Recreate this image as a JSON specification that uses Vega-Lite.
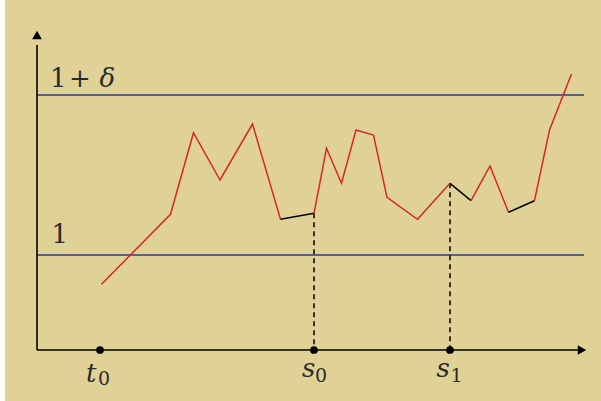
{
  "$schema": "https://vega.github.io/schema/vega-lite/v6.json",
  "width": 601,
  "height": 401,
  "autosize": {"type": "fit", "contains": "padding"},
  "padding": {"left": 5, "top": 0, "right": 0, "bottom": 0},
  "background": "#ffffff",
  "config": {"view": {"fill": "#E0D296", "stroke": null}},
  "datasets": {
    "path": [
      {"t": 1.29, "v": 0.8535, "seg": 1, "kind": "free"},
      {"t": 2.67, "v": 1.2035, "seg": 1, "kind": "free"},
      {"t": 3.13, "v": 1.6115, "seg": 1, "kind": "free"},
      {"t": 3.66, "v": 1.375, "seg": 1, "kind": "free"},
      {"t": 4.31, "v": 1.655, "seg": 1, "kind": "free"},
      {"t": 4.87, "v": 1.1785, "seg": 1, "kind": "free"},
      {"t": 4.87, "v": 1.1785, "seg": 2, "kind": "held"},
      {"t": 5.54, "v": 1.2085, "seg": 2, "kind": "held"},
      {"t": 5.54, "v": 1.2085, "seg": 3, "kind": "free"},
      {"t": 5.79, "v": 1.5335, "seg": 3, "kind": "free"},
      {"t": 6.09, "v": 1.3585, "seg": 3, "kind": "free"},
      {"t": 6.38, "v": 1.625, "seg": 3, "kind": "free"},
      {"t": 6.73, "v": 1.6, "seg": 3, "kind": "free"},
      {"t": 7.0, "v": 1.2885, "seg": 3, "kind": "free"},
      {"t": 7.61, "v": 1.1785, "seg": 3, "kind": "free"},
      {"t": 8.26, "v": 1.3585, "seg": 3, "kind": "free"},
      {"t": 8.26, "v": 1.3585, "seg": 4, "kind": "held"},
      {"t": 8.68, "v": 1.2715, "seg": 4, "kind": "held"},
      {"t": 8.68, "v": 1.2715, "seg": 5, "kind": "free"},
      {"t": 9.06, "v": 1.445, "seg": 5, "kind": "free"},
      {"t": 9.43, "v": 1.2135, "seg": 5, "kind": "free"},
      {"t": 9.43, "v": 1.2135, "seg": 6, "kind": "held"},
      {"t": 9.95, "v": 1.2715, "seg": 6, "kind": "held"},
      {"t": 9.95, "v": 1.2715, "seg": 7, "kind": "free"},
      {"t": 10.25, "v": 1.625, "seg": 7, "kind": "free"},
      {"t": 10.69, "v": 1.905, "seg": 7, "kind": "free"}
    ],
    "levels": [
      {"t": 0, "t2": 10.94, "v": 1},
      {"t": 0, "t2": 10.94, "v": 1.8}
    ],
    "axes": [
      {"t": 0, "t2": 10.86, "v": 0.525, "v2": 0.525},
      {"t": 0, "t2": 0, "v": 0.525, "v2": 2.05}
    ],
    "arrows": [
      {"t": 10.9, "v": 0.525, "dir": "right"},
      {"t": 0, "v": 2.1, "dir": "up"}
    ],
    "drops": [
      {"t": 5.54, "v": 1.2085, "v2": 0.525},
      {"t": 8.26, "v": 1.3585, "v2": 0.525}
    ],
    "dots": [
      {"t": 1.26, "v": 0.525},
      {"t": 5.54, "v": 0.525},
      {"t": 8.26, "v": 0.525}
    ],
    "italic": [
      {"t": 0.98, "v": 0.3665, "label": "t"},
      {"t": 5.3, "v": 0.3915, "label": "s"},
      {"t": 7.99, "v": 0.3915, "label": "s"},
      {"t": 1.25, "v": 1.84, "label": "δ"}
    ],
    "upright": [
      {"t": 0.26, "v": 1.84, "label": "1"},
      {"t": 0.64, "v": 1.84, "label": "+"},
      {"t": 0.29, "v": 1.06, "label": "1"}
    ],
    "subs": [
      {"t": 1.22, "v": 0.35, "label": "0"},
      {"t": 5.56, "v": 0.3665, "label": "0"},
      {"t": 8.27, "v": 0.3665, "label": "1"}
    ]
  },
  "layer": [
    {
      "data": {"name": "levels"},
      "mark": {"type": "rule", "color": "#343C70", "strokeWidth": 1.5},
      "encoding": {
        "x": {"field": "t", "type": "quantitative", "scale": {"domain": [-0.64, 11.28], "nice": false, "zero": false}, "axis": null},
        "x2": {"field": "t2"},
        "y": {"field": "v", "type": "quantitative", "scale": {"domain": [0.27, 2.275], "nice": false, "zero": false}, "axis": null}
      }
    },
    {
      "data": {"name": "axes"},
      "mark": {"type": "rule", "color": "#000000", "strokeWidth": 1.6},
      "encoding": {
        "x": {"field": "t", "type": "quantitative"},
        "x2": {"field": "t2"},
        "y": {"field": "v", "type": "quantitative"},
        "y2": {"field": "v2"}
      }
    },
    {
      "data": {"name": "arrows"},
      "mark": {"type": "point", "filled": true, "color": "#000000", "size": 95, "opacity": 1},
      "encoding": {
        "x": {"field": "t", "type": "quantitative"},
        "y": {"field": "v", "type": "quantitative"},
        "shape": {"field": "dir", "type": "nominal", "scale": {"domain": ["right", "up"], "range": ["triangle-right", "triangle-up"]}, "legend": null}
      }
    },
    {
      "data": {"name": "drops"},
      "mark": {"type": "rule", "color": "#000000", "strokeWidth": 1.5, "strokeDash": [5, 4]},
      "encoding": {
        "x": {"field": "t", "type": "quantitative"},
        "y": {"field": "v", "type": "quantitative"},
        "y2": {"field": "v2"}
      }
    },
    {
      "data": {"name": "path"},
      "mark": {"type": "line", "strokeWidth": 1.5},
      "encoding": {
        "x": {"field": "t", "type": "quantitative"},
        "y": {"field": "v", "type": "quantitative"},
        "detail": {"field": "seg", "type": "nominal"},
        "color": {"field": "kind", "type": "nominal", "scale": {"domain": ["free", "held"], "range": ["#D42828", "#000000"]}, "legend": null}
      }
    },
    {
      "data": {"name": "dots"},
      "mark": {"type": "circle", "color": "#000000", "size": 60, "opacity": 1},
      "encoding": {
        "x": {"field": "t", "type": "quantitative"},
        "y": {"field": "v", "type": "quantitative"}
      }
    },
    {
      "data": {"name": "italic"},
      "mark": {"type": "text", "font": "DejaVu Serif", "fontStyle": "italic", "fontSize": 26, "align": "left", "baseline": "alphabetic", "color": "#2a2a2a"},
      "encoding": {
        "x": {"field": "t", "type": "quantitative"},
        "y": {"field": "v", "type": "quantitative"},
        "text": {"field": "label"}
      }
    },
    {
      "data": {"name": "upright"},
      "mark": {"type": "text", "font": "DejaVu Serif", "fontSize": 26, "align": "left", "baseline": "alphabetic", "color": "#2a2a2a"},
      "encoding": {
        "x": {"field": "t", "type": "quantitative"},
        "y": {"field": "v", "type": "quantitative"},
        "text": {"field": "label"}
      }
    },
    {
      "data": {"name": "subs"},
      "mark": {"type": "text", "font": "DejaVu Serif", "fontSize": 19, "align": "left", "baseline": "alphabetic", "color": "#2a2a2a"},
      "encoding": {
        "x": {"field": "t", "type": "quantitative"},
        "y": {"field": "v", "type": "quantitative"},
        "text": {"field": "label"}
      }
    }
  ]
}
